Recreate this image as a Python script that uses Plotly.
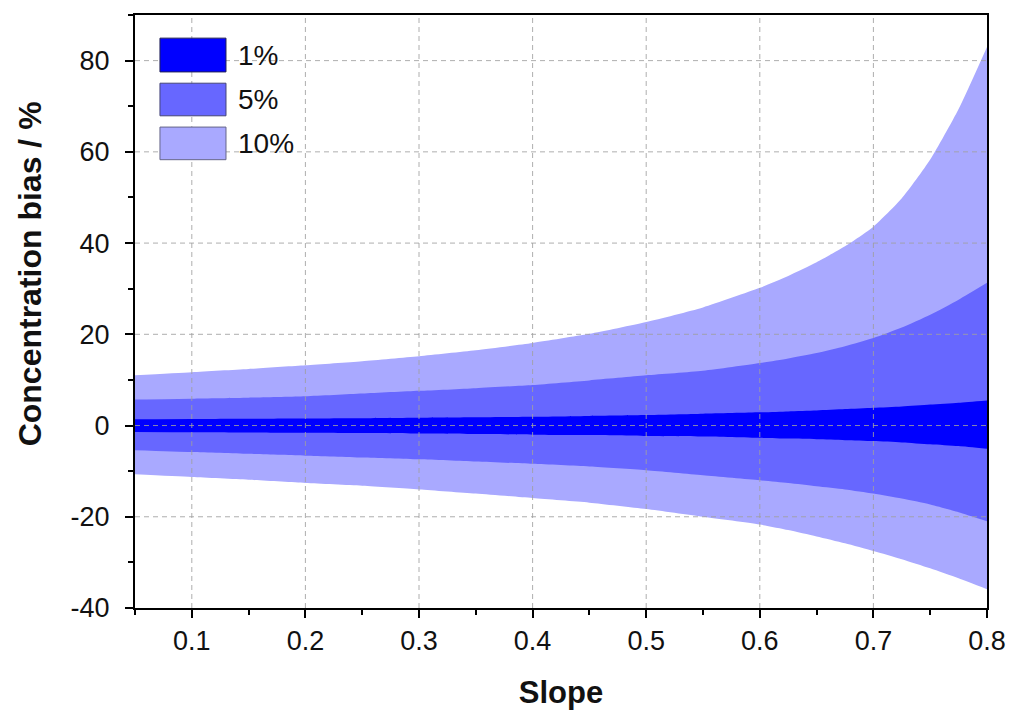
import plotly.graph_objects as go

# Slope values (x) and band limits (concentration bias, %)
slope = [0.05, 0.10, 0.15, 0.20, 0.25, 0.30, 0.35, 0.40, 0.45, 0.50,
         0.55, 0.60, 0.625, 0.65, 0.675, 0.70, 0.725, 0.75, 0.775, 0.80]

upper_10 = [11.0, 11.7, 12.4, 13.2, 14.1, 15.2, 16.5, 18.1, 20.1, 22.7,
            25.9, 30.2, 32.8, 35.8, 39.3, 43.6, 49.8, 58.3, 69.4, 83.0]
lower_10 = [-10.7, -11.3, -11.9, -12.6, -13.2, -14.0, -14.9, -15.9, -16.9, -18.3,
            -20.0, -21.7, -22.9, -24.3, -25.8, -27.5, -29.3, -31.3, -33.5, -35.9]

upper_5 = [5.7, 5.9, 6.1, 6.4, 7.0, 7.6, 8.2, 8.9, 9.9, 11.0,
           12.0, 13.7, 14.7, 15.9, 17.4, 19.2, 21.5, 24.3, 27.6, 31.3]
lower_5 = [-5.4, -5.8, -6.2, -6.6, -7.0, -7.4, -7.9, -8.4, -9.0, -9.8,
           -10.9, -12.0, -12.6, -13.3, -14.0, -14.9, -16.0, -17.3, -19.0, -21.0]

upper_1 = [1.4, 1.45, 1.5, 1.55, 1.6, 1.7, 1.8, 1.9, 2.1, 2.3,
           2.6, 2.9, 3.1, 3.3, 3.6, 3.9, 4.2, 4.6, 5.0, 5.5]
lower_1 = [-1.4, -1.45, -1.5, -1.6, -1.65, -1.75, -1.85, -2.0, -2.1, -2.3,
           -2.4, -2.7, -2.85, -3.0, -3.2, -3.4, -3.7, -4.1, -4.5, -5.1]

band_names = ["10%", "5%", "1%"]
band_colors = ["#A9A9FF", "#6767FF", "#0000FF"]
band_upper = [upper_10, upper_5, upper_1]
band_lower = [lower_10, lower_5, lower_1]

x_ticks = [0.1, 0.2, 0.3, 0.4, 0.5, 0.6, 0.7, 0.8]
x_tick_text = ["0.1", "0.2", "0.3", "0.4", "0.5", "0.6", "0.7", "0.8"]
y_ticks = [-40, -20, 0, 20, 40, 60, 80]
y_tick_text = ["-40", "-20", "0", "20", "40", "60", "80"]

FONT = "Liberation Sans, Arial, sans-serif"

fig = go.Figure()
for name, col, up, lo in zip(band_names, band_colors, band_upper, band_lower):
    fig.add_trace(go.Scatter(
        x=slope, y=lo, mode="lines",
        line=dict(width=0, color=col, shape="spline", smoothing=0.6),
        showlegend=False, hoverinfo="skip",
    ))
    fig.add_trace(go.Scatter(
        x=slope, y=up, mode="lines", fill="tonexty", fillcolor=col,
        line=dict(width=0, color=col, shape="spline", smoothing=0.6),
        name=name, showlegend=False, hoverinfo="skip",
    ))

grid_line = dict(color="rgba(160,160,160,0.85)", width=1, dash="5px,4px")
shapes = []
# dashed grid drawn above the bands
for xv in x_ticks[:-1]:
    shapes.append(dict(type="line", xref="x", yref="paper", x0=xv, x1=xv, y0=0, y1=1,
                       line=grid_line, layer="above"))
for yv in y_ticks[1:]:
    shapes.append(dict(type="line", xref="paper", yref="y", x0=0, x1=1, y0=yv, y1=yv,
                       line=grid_line, layer="above"))

# legend boxes
legend_order = ["1%", "5%", "10%"]
legend_cols = ["#0000FF", "#6767FF", "#A9A9FF"]
legend_edges = ["#222255", "#444477", "#666688"]
box_y = [(0.904, 0.961), (0.830, 0.885), (0.756, 0.811)]
annotations = []
for lab, col, edge, (y0, y1) in zip(legend_order, legend_cols, legend_edges, box_y):
    shapes.append(dict(type="rect", xref="paper", yref="paper", x0=0.0293, x1=0.1068,
                       y0=y0, y1=y1, fillcolor=col,
                       line=dict(color=edge, width=1), layer="above"))
    annotations.append(dict(xref="paper", yref="paper", x=0.119, y=(y0 + y1) / 2,
                            text=lab, showarrow=False, xanchor="left", yanchor="middle",
                            font=dict(family=FONT, size=28, color="#111")))

# y-axis title (placed as in the original, slightly above centre)
annotations.append(dict(xref="paper", yref="paper", x=-0.123, y=0.563,
                        text="<b>Concentration bias / %</b>", textangle=-90,
                        showarrow=False, xanchor="center", yanchor="middle",
                        font=dict(family=FONT, size=32, color="#111")))

fig.update_layout(
    width=1012, height=715,
    margin=dict(l=135, r=25, t=15, b=107),
    paper_bgcolor="white", plot_bgcolor="white",
    font=dict(family=FONT, size=27, color="#111"),
    shapes=shapes,
    annotations=annotations,
    showlegend=False,
)

fig.update_xaxes(
    range=[0.05, 0.8], automargin=False,
    tickvals=x_ticks, ticktext=x_tick_text,
    ticks="outside", ticklen=8, tickwidth=1.5, tickcolor="black",
    minor=dict(ticks="outside", ticklen=5, tickwidth=1.5, tickcolor="black",
               tick0=0.05, dtick=0.1, showgrid=False),
    showline=True, linecolor="black", linewidth=2, mirror=True,
    showgrid=False, zeroline=False,
    tickfont=dict(size=27, color="#111"),
    title=dict(text="<b>Slope</b>", font=dict(size=31, color="#111"), standoff=26),
)
fig.update_yaxes(
    range=[-40, 90], automargin=False,
    tickvals=y_ticks, ticktext=y_tick_text,
    ticks="outside", ticklen=8, tickwidth=1.5, tickcolor="black",
    ticklabelstandoff=10,
    minor=dict(ticks="outside", ticklen=5, tickwidth=1.5, tickcolor="black",
               tick0=-30, dtick=20, showgrid=False),
    showline=True, linecolor="black", linewidth=2, mirror=True,
    showgrid=False, zeroline=False,
    tickfont=dict(size=27, color="#111"),
)

fig.write_html("out.html")
